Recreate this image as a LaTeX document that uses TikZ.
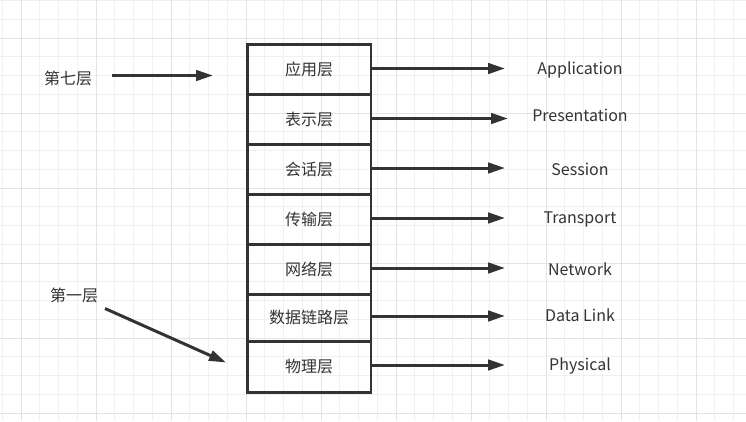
\documentclass[tikz,border=0pt]{standalone}
\usepackage{fontspec}
\setmainfont{Noto Sans CJK SC}
\usetikzlibrary{arrows.meta}
\definecolor{ink}{HTML}{333333}
\definecolor{gridminor}{HTML}{F0F0F0}
\definecolor{gridmajor}{HTML}{E3E3E3}
\tikzset{
  layerbox/.style={draw=ink, line width=2.5pt, minimum width=123.5pt, inner sep=0pt, anchor=north west, font=\fontsize{16}{19}\selectfont, text=ink},
  lbl/.style={font=\fontsize{16}{19}\selectfont, text=ink, inner sep=0pt},
  arr/.style={draw=ink, line width=3pt, -{Triangle[length=17pt,width=10.5pt]}},
}
\begin{document}
\begin{tikzpicture}[x=1pt,y=-1pt]
\useasboundingbox (0,0) rectangle (746,421);
\fill[white] (0,0) rectangle (746,421);
% grid
\foreach \k in {-1,...,39}{
  \pgfmathsetmacro\gx{21+18.75*\k}
  \draw[gridminor, line width=1pt] (\gx,0) -- (\gx,421);
}
\foreach \k in {-2,...,20}{
  \pgfmathsetmacro\gy{38+18.75*\k}
  \draw[gridminor, line width=1pt] (0,\gy) -- (746,\gy);
}
\foreach \k in {0,...,9}{
  \pgfmathsetmacro\gx{21+75*\k}
  \draw[gridmajor, line width=1pt] (\gx,0) -- (\gx,421);
}
\foreach \k in {0,...,5}{
  \pgfmathsetmacro\gy{38+75*\k}
  \draw[gridmajor, line width=1pt] (0,\gy) -- (746,\gy);
}
% layer stack
\node[layerbox, minimum height=50pt] (l7) at (246,43) {应用层};
\node[layerbox, minimum height=50pt] (l6) at (246,93) {表示层};
\node[layerbox, minimum height=50pt] (l5) at (246,143) {会话层};
\node[layerbox, minimum height=50pt] (l4) at (246,193) {传输层};
\node[layerbox, minimum height=50pt] (l3) at (246,243) {网络层};
\node[layerbox, minimum height=47pt] (l2) at (246,293) {数据链路层};
\node[layerbox, minimum height=51pt] (l1) at (246,340) {物理层};
% english labels
\node[lbl] (e7) at (580,69.5) {Application};
\node[lbl] (e6) at (580,115.5) {Presentation};
\node[lbl] (e5) at (580,169.5) {Session};
\node[lbl] (e4) at (580,219.5) {Transport};
\node[lbl] (e3) at (580,269.5) {Network};
\node[lbl] (e2) at (580,315.5) {Data Link};
\node[lbl] (e1) at (580,365.5) {Physical};
% arrow ends
\coordinate (p7) at (505,68.5);
\coordinate (p6) at (508,118.5);
\coordinate (p5) at (505,168);
\coordinate (p4) at (505,218);
\coordinate (p3) at (505,268);
\coordinate (p2) at (505,316);
\coordinate (p1) at (505,365);
\draw[arr] (l7.east |- p7) -- (p7);
\draw[arr] (l6.east |- p6) -- (p6);
\draw[arr] (l5.east |- p5) -- (p5);
\draw[arr] (l4.east |- p4) -- (p4);
\draw[arr] (l3.east |- p3) -- (p3);
\draw[arr] (l2.east |- p2) -- (p2);
\draw[arr] (l1.east |- p1) -- (p1);
% left labels
\node[lbl] (t7) at (68,78.5) {第七层};
\node[lbl] (t1) at (74,295.5) {第一层};
\coordinate (s7) at (112,75.5);
\coordinate (d7) at (213,75.5);
\coordinate (s1) at (105,308.5);
\coordinate (d1) at (226,362.5);
\draw[arr] (s7) -- (d7);
\draw[arr] (s1) -- (d1);
\end{tikzpicture}
\end{document}
